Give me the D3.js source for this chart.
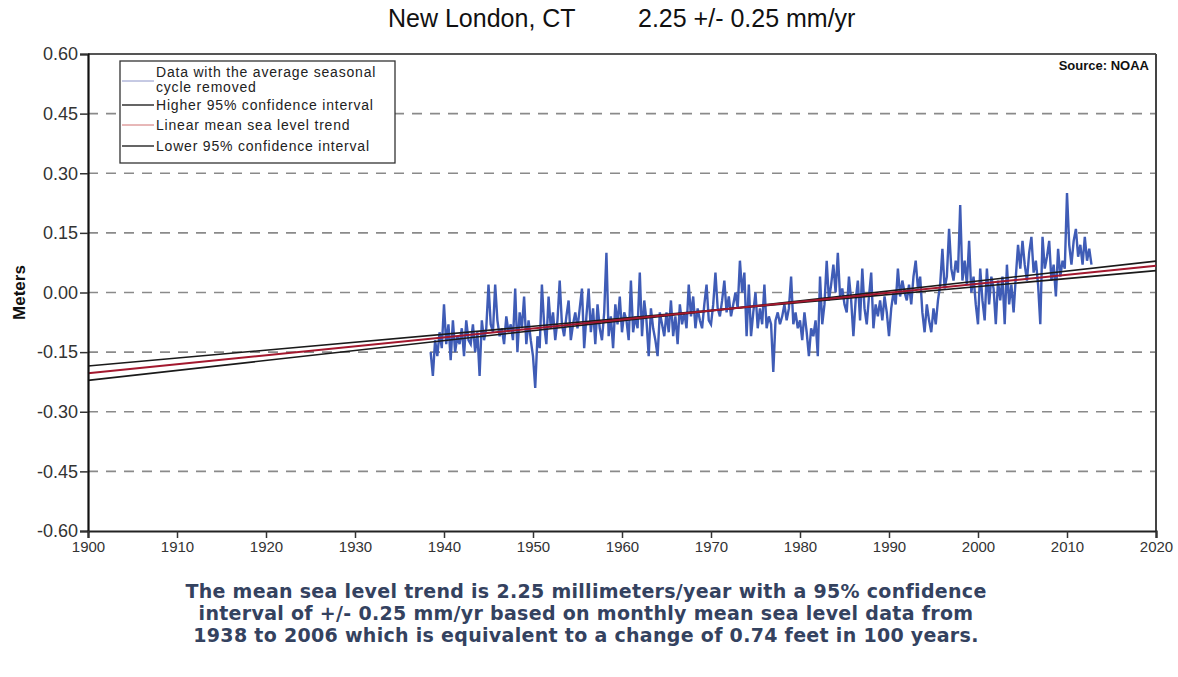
<!DOCTYPE html>
<html>
<head>
<meta charset="utf-8">
<script src="https://cdn.jsdelivr.net/npm/d3@7"></script>
<style>
	body { margin: 0; background: #fff; }
	svg { display: block; }
</style>
</head>
<body>
<svg id="chart" width="1178" height="677"></svg>
<script>
// axes
const xTicks = [1900, 1910, 1920, 1930, 1940, 1950, 1960, 1970, 1980, 1990, 2000, 2010, 2020];
const yTicks = [-0.6, -0.45, -0.3, -0.15, 0, 0.15, 0.3, 0.45, 0.6];
const yGrid = [-0.45, -0.3, -0.15, 0, 0.15, 0.3, 0.45];

// trend lines, end points in 1900 and 2020
const trendYears = [1900, 2020];
const trendMean = [-0.203, 0.067];
const trendHigh = [-0.221, 0.079];
const trendLow = [-0.185, 0.055];

// seasonal-cycle-removed sea level, 4 samples a year from 1938.5
const dataStart = 1938.5;
const dataStep = 0.25;
const seaLevel = [
	-0.15, -0.21,
	-0.12, -0.16, -0.10, -0.14,
	-0.03, -0.13, -0.08, -0.17,
	-0.07, -0.15, -0.11, -0.13,
	-0.09, -0.16, -0.07, -0.12,
	-0.13, -0.08, -0.15, -0.10,
	-0.21, -0.07, -0.12, -0.09,
	0.02, -0.08, -0.10, 0.02,
	-0.07, -0.11, -0.09, -0.13,
	-0.06, -0.10, -0.08, -0.12,
	0.01, -0.15, -0.05, -0.09,
	-0.01, -0.13, -0.07, -0.12,
	-0.16, -0.24, -0.11, -0.14,
	0.02, -0.08, -0.13, -0.01,
	-0.09, -0.05, -0.12, -0.07,
	0.03, -0.08, -0.11, -0.06,
	-0.02, -0.12, -0.08, -0.05,
	-0.09, -0.04, 0.01, -0.14,
	-0.06, 0.01, -0.10, -0.04,
	-0.13, -0.03, -0.09, -0.12,
	-0.05, 0.10, -0.11, -0.06,
	-0.14, -0.03, -0.08, -0.01,
	-0.10, -0.05, -0.07, -0.12,
	0.03, -0.10, -0.06, -0.09,
	0.05, -0.11, -0.02, -0.07,
	-0.16, -0.04, -0.09, -0.12,
	-0.16, -0.05, -0.08, -0.11,
	-0.05, -0.10, -0.02, -0.11,
	-0.06, -0.13, -0.03, -0.08,
	-0.05, -0.09, 0.02, -0.06,
	-0.01, -0.09, -0.04, -0.07,
	-0.09, -0.03, 0.02, -0.07,
	-0.08, -0.03, 0.05, -0.04,
	-0.06, -0.02, 0.03, -0.05,
	-0.01, -0.06, -0.03, 0.00,
	-0.04, 0.08, 0.00, 0.05,
	-0.11, 0.02, -0.11, -0.05,
	0.00, -0.09, -0.04, -0.08,
	0.02, -0.09, -0.06, -0.08,
	-0.20, -0.07, -0.05, -0.08,
	-0.06, -0.03, -0.07, -0.04,
	0.04, -0.08, -0.05, -0.09,
	-0.07, -0.12, -0.05, -0.10,
	-0.16, -0.09, -0.11, -0.07,
	-0.16, 0.04, -0.08, -0.03,
	0.08, -0.02, 0.02, 0.07,
	0.00, 0.10, -0.01, 0.01,
	-0.03, -0.05, 0.04, -0.02,
	-0.11, -0.02, 0.03, -0.07,
	0.06, -0.04, -0.08, -0.01,
	0.05, -0.09, -0.03, -0.06,
	-0.02, -0.07, -0.01, -0.05,
	-0.11, -0.04, 0.00, -0.03,
	0.06, -0.01, 0.03, 0.00,
	-0.02, 0.02, -0.03, 0.04,
	0.08, 0.01, 0.04, -0.05,
	-0.10, -0.03, -0.07, -0.10,
	-0.04, -0.08, -0.02, 0.02,
	0.11, 0.01, 0.04, 0.16,
	0.06, 0.03, 0.08, 0.05,
	0.22, 0.03, 0.08, 0.02,
	0.13, 0.00, 0.04, -0.03,
	-0.08, 0.06, -0.02, -0.07,
	0.06, -0.03, 0.04, 0.01,
	-0.08, 0.03, -0.02, 0.04,
	-0.08, 0.07, -0.03, 0.02,
	-0.05, 0.04, 0.12, 0.06,
	0.13, 0.07, 0.03, 0.10,
	0.14, 0.05, 0.08, 0.02,
	-0.08, 0.14, 0.06, 0.09,
	0.13, 0.03, 0.07, -0.01,
	0.11, 0.04, 0.08, 0.06,
	0.25, 0.12, 0.07, 0.13,
	0.16, 0.09, 0.12, 0.07,
	0.14, 0.08, 0.11, 0.07
];

const legendItems = [
	{ label: ["Data with the average seasonal", "cycle removed"], color: "#8c94c8", width: 1 },
	{ label: ["Higher 95% confidence interval"], color: "#111", width: 1.3 },
	{ label: ["Linear mean sea level trend"], color: "#d07070", width: 1 },
	{ label: ["Lower 95% confidence interval"], color: "#111", width: 1.3 }
];

const footnote = [
	"The mean sea level trend is 2.25 millimeters/year with a 95% confidence",
	"interval of +/- 0.25 mm/yr based on monthly mean sea level data from",
	"1938 to 2006 which is equivalent to a change of 0.74 feet in 100 years."
];

const svg = d3.select("#chart");
const font = "'Liberation Sans', Arial, sans-serif";

let x = d3.scaleLinear().domain([1900, 2020]).range([88, 1156]);
let y = d3.scaleLinear().domain([-0.6, 0.6]).range([531, 54]);

// title
svg.append("text")
	.attr("x", 388).attr("y", 27)
	.style("font-family", font).style("font-size", "25px").attr("fill", "#111")
	.text("New London, CT");
svg.append("text")
	.attr("x", 638).attr("y", 27)
	.style("font-family", font).style("font-size", "25px").attr("fill", "#111")
	.text("2.25 +/- 0.25 mm/yr");

// dashed grid
svg.append("g")
	.selectAll("line")
	.data(yGrid)
	.join("line")
	.attr("x1", x(1900)).attr("x2", x(2020))
	.attr("y1", (d) => y(d)).attr("y2", (d) => y(d))
	.attr("stroke", "#8a8a8a")
	.attr("stroke-width", 1.6)
	.attr("stroke-dasharray", "10,8");

// frame top / right
svg.append("line")
	.attr("x1", x(1900)).attr("x2", x(2020)).attr("y1", y(0.6)).attr("y2", y(0.6))
	.attr("stroke", "#555").attr("stroke-width", 2);
svg.append("line")
	.attr("x1", x(2020)).attr("x2", x(2020)).attr("y1", y(0.6)).attr("y2", y(-0.6))
	.attr("stroke", "#444").attr("stroke-width", 2);

// sea level series
let lineFn = d3.line()
	.x((d, i) => x(dataStart + i * dataStep))
	.y((d) => y(d));

svg.append("path")
	.datum(seaLevel)
	.attr("d", lineFn)
	.attr("fill", "none")
	.attr("stroke", "#3f5cb6")
	.attr("stroke-width", 2.4)
	.attr("stroke-linejoin", "miter");

// trend lines drawn on top
let trendLine = d3.line()
	.x((d, i) => x(trendYears[i]))
	.y((d) => y(d));

svg.append("path").datum(trendHigh).attr("d", trendLine)
	.attr("fill", "none").attr("stroke", "#1a1a1a").attr("stroke-width", 1.6);
svg.append("path").datum(trendLow).attr("d", trendLine)
	.attr("fill", "none").attr("stroke", "#1a1a1a").attr("stroke-width", 1.6);
svg.append("path").datum(trendMean).attr("d", trendLine)
	.attr("fill", "none").attr("stroke", "#a3182e").attr("stroke-width", 2);

// axes
let yAxis = d3.axisLeft(y)
	.tickValues(yTicks)
	.tickSize(8)
	.tickPadding(2)
	.tickFormat((d) => d.toFixed(2));

let yG = svg.append("g").attr("transform", `translate(${x(1900)},0)`).call(yAxis);
yG.select(".domain").attr("stroke", "#111").attr("stroke-width", 2.2);
yG.selectAll(".tick line").attr("stroke", "#333").attr("stroke-width", 1.5);
yG.selectAll(".tick text")
	.style("font-family", font).style("font-size", "18px").attr("fill", "#333");

let xAxis = d3.axisBottom(x)
	.tickValues(xTicks)
	.tickSize(7)
	.tickPadding(3)
	.tickFormat(d3.format("d"));

let xG = svg.append("g").attr("transform", `translate(0,${y(-0.6)})`).call(xAxis);
xG.select(".domain").attr("stroke", "#222").attr("stroke-width", 2.2);
xG.selectAll(".tick line").attr("stroke", "#333").attr("stroke-width", 1.5);
xG.selectAll(".tick text")
	.style("font-family", font).style("font-size", "15px").attr("fill", "#333");

// y label
svg.append("text")
	.attr("transform", `translate(25,${y(0)}) rotate(-90)`)
	.attr("text-anchor", "middle")
	.style("font-family", font).style("font-size", "17px").style("font-weight", "bold")
	.attr("fill", "#111")
	.text("Meters");

// source
svg.append("text")
	.attr("x", 1149).attr("y", 70)
	.attr("text-anchor", "end")
	.style("font-family", font).style("font-size", "13px").style("font-weight", "bold")
	.attr("fill", "#111")
	.text("Source: NOAA");

// legend
let legend = svg.append("g").attr("transform", "translate(120,61)");
legend.append("rect")
	.attr("width", 275).attr("height", 102)
	.attr("fill", "#fff").attr("stroke", "#333").attr("stroke-width", 1.3);

// baseline of first text line of each item, inside the box
let rowY = [16, 49, 69, 90];
legendItems.forEach((item, i) => {
	let lineY = item.label.length > 1 ? rowY[i] + 4 : rowY[i] - 5;
	legend.append("line")
		.attr("x1", 2).attr("x2", 34)
		.attr("y1", lineY).attr("y2", lineY)
		.attr("stroke", item.color).attr("stroke-width", item.width);
	item.label.forEach((t, j) => {
		legend.append("text")
			.attr("x", 36).attr("y", rowY[i] + j * 15)
			.style("font-family", font).style("font-size", "14px")
			.style("letter-spacing", "0.8px")
			.attr("fill", "#222")
			.text(t);
	});
});

// footnote
svg.append("g")
	.selectAll("text")
	.data(footnote)
	.join("text")
	.attr("x", 586)
	.attr("y", (d, i) => 598 + i * 22)
	.attr("text-anchor", "middle")
	.style("font-family", "'DejaVu Sans', Verdana, sans-serif")
	.style("font-size", "19px").style("font-weight", "bold")
	.style("letter-spacing", "0.3px")
	.attr("fill", "#34425f")
	.text((d) => d);
</script>
</body>
</html>
